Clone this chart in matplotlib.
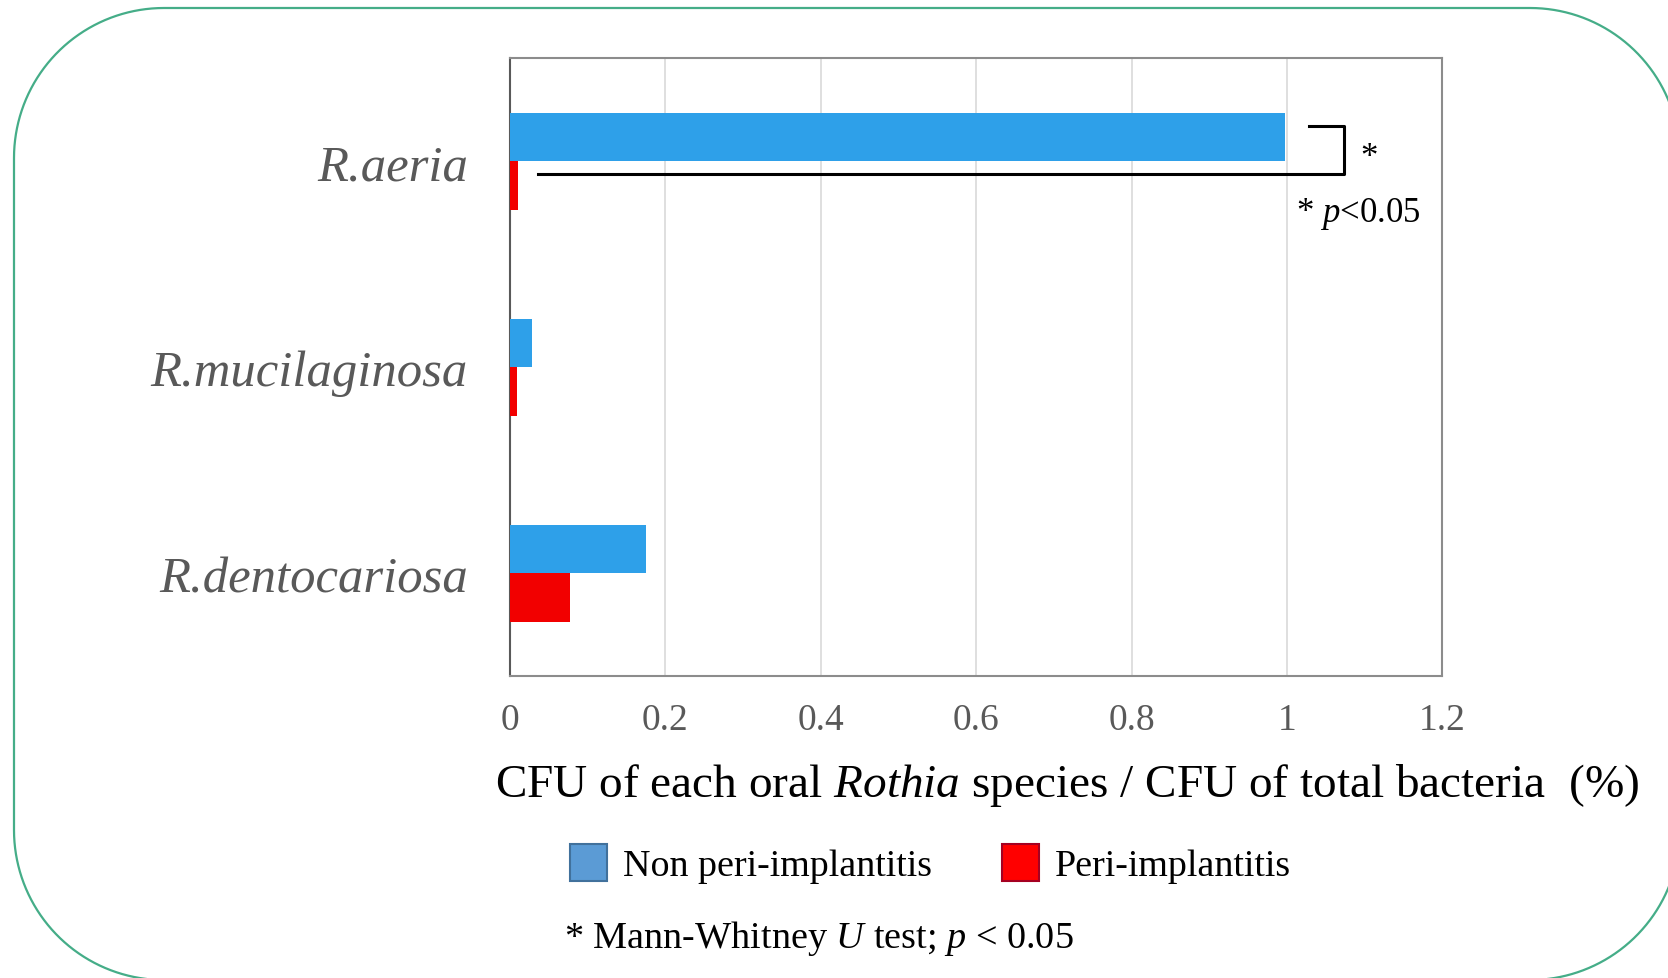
import matplotlib
matplotlib.use("Agg")
from matplotlib import pyplot as plt
from matplotlib.patches import Patch, Polygon
import numpy as np

plt.rcParams['font.family'] = ['Liberation Serif', 'DejaVu Serif']
plt.rcParams['mathtext.fontset'] = 'custom'
plt.rcParams['mathtext.rm'] = 'Liberation Serif'
plt.rcParams['mathtext.it'] = 'Liberation Serif:italic'

species = ["R.dentocariosa", "R.mucilaginosa", "R.aeria"]
non_peri = [0.175, 0.029, 0.998]
peri = [0.078, 0.010, 0.011]
xticks = [0, 0.2, 0.4, 0.6, 0.8, 1.0, 1.2]
xtick_labels = ["0", "0.2", "0.4", "0.6", "0.8", "1", "1.2"]

blue = "#2EA0E9"
red = "#F20000"
gray_txt = "#595959"

fig = plt.figure(figsize=(16.68, 9.79), dpi=100)
ax = fig.add_axes([0.3055, 0.308, 0.5593, 0.6314])

y = np.arange(len(species))
h = 0.235
ax.barh(y + h / 2, non_peri, height=h, color=blue, zorder=3)
ax.barh(y - h / 2, peri, height=h, color=red, zorder=3)

ax.set_xlim(0, 1.2)
ax.set_ylim(-0.5, 2.5)
ax.set_xticks(xticks)
ax.set_xticklabels(xtick_labels, fontsize=27, color=gray_txt)
ax.set_yticks(y)
ax.set_yticklabels(species, fontsize=36.5, style='italic', color=gray_txt,
                   va='center_baseline')
ax.tick_params(axis='x', length=0, pad=19)
ax.tick_params(axis='y', length=0, pad=30)
ax.xaxis.grid(True, color="#D9D9D9", linewidth=1.2, zorder=0)
for s in ax.spines.values():
    s.set_color("#8C8C8C")
    s.set_linewidth(1.5)
ax.spines['left'].set_color("#595959")

# significance bracket
ax.plot([1.028, 1.073, 1.073, 0.037], [2.17, 2.17, 1.94, 1.94],
        color='black', linewidth=2.2, zorder=4)
ax.text(1.106, 2.02, "*", fontsize=25, ha='center', va='center')
ax.text(1.092, 1.75, r"* $\it{p}$<0.05", fontsize=25, ha='center', va='center')

fig.text(0.297, 0.198, r"CFU of each oral $\it{Rothia}$ species / CFU of total bacteria  (%)",
         fontsize=34, ha='left', va='center')

handles = [Patch(facecolor="#5B9BD5", edgecolor="#41719C", linewidth=1.5),
           Patch(facecolor="#FF0000", edgecolor="#A50021", linewidth=1.5)]
fig.legend(handles, ["Non peri-implantitis", "Peri-implantitis"], ncol=2,
           loc='center left', bbox_to_anchor=(0.342, 0.117), frameon=False,
           fontsize=27.4, handlelength=0.97, handleheight=1.15, handletextpad=0.42,
           columnspacing=1.84, borderpad=0, borderaxespad=0)

fig.text(0.338, 0.041, r"* Mann-Whitney $\it{U}$ test; $\it{p}$ < 0.05",
         fontsize=27.5, ha='left', va='center')

# rounded frame (pixel coordinates, circular corners)
x0, x1, y0, y1, r = 14, 1680, -2, 970, 150
t = np.linspace(0, np.pi / 2, 40)
pts = np.concatenate([
    np.c_[x1 - r + r * np.cos(t), y1 - r + r * np.sin(t)],
    np.c_[x0 + r - r * np.sin(t), y1 - r + r * np.cos(t)],
    np.c_[x0 + r - r * np.cos(t), y0 + r - r * np.sin(t)],
    np.c_[x1 - r + r * np.sin(t), y0 + r - r * np.cos(t)],
])
frame = Polygon(pts / 100.0, closed=True, transform=fig.dpi_scale_trans,
                facecolor='none', edgecolor="#45AD88", linewidth=1.6)
fig.patches.append(frame)

fig.savefig("out.png", dpi=100)
